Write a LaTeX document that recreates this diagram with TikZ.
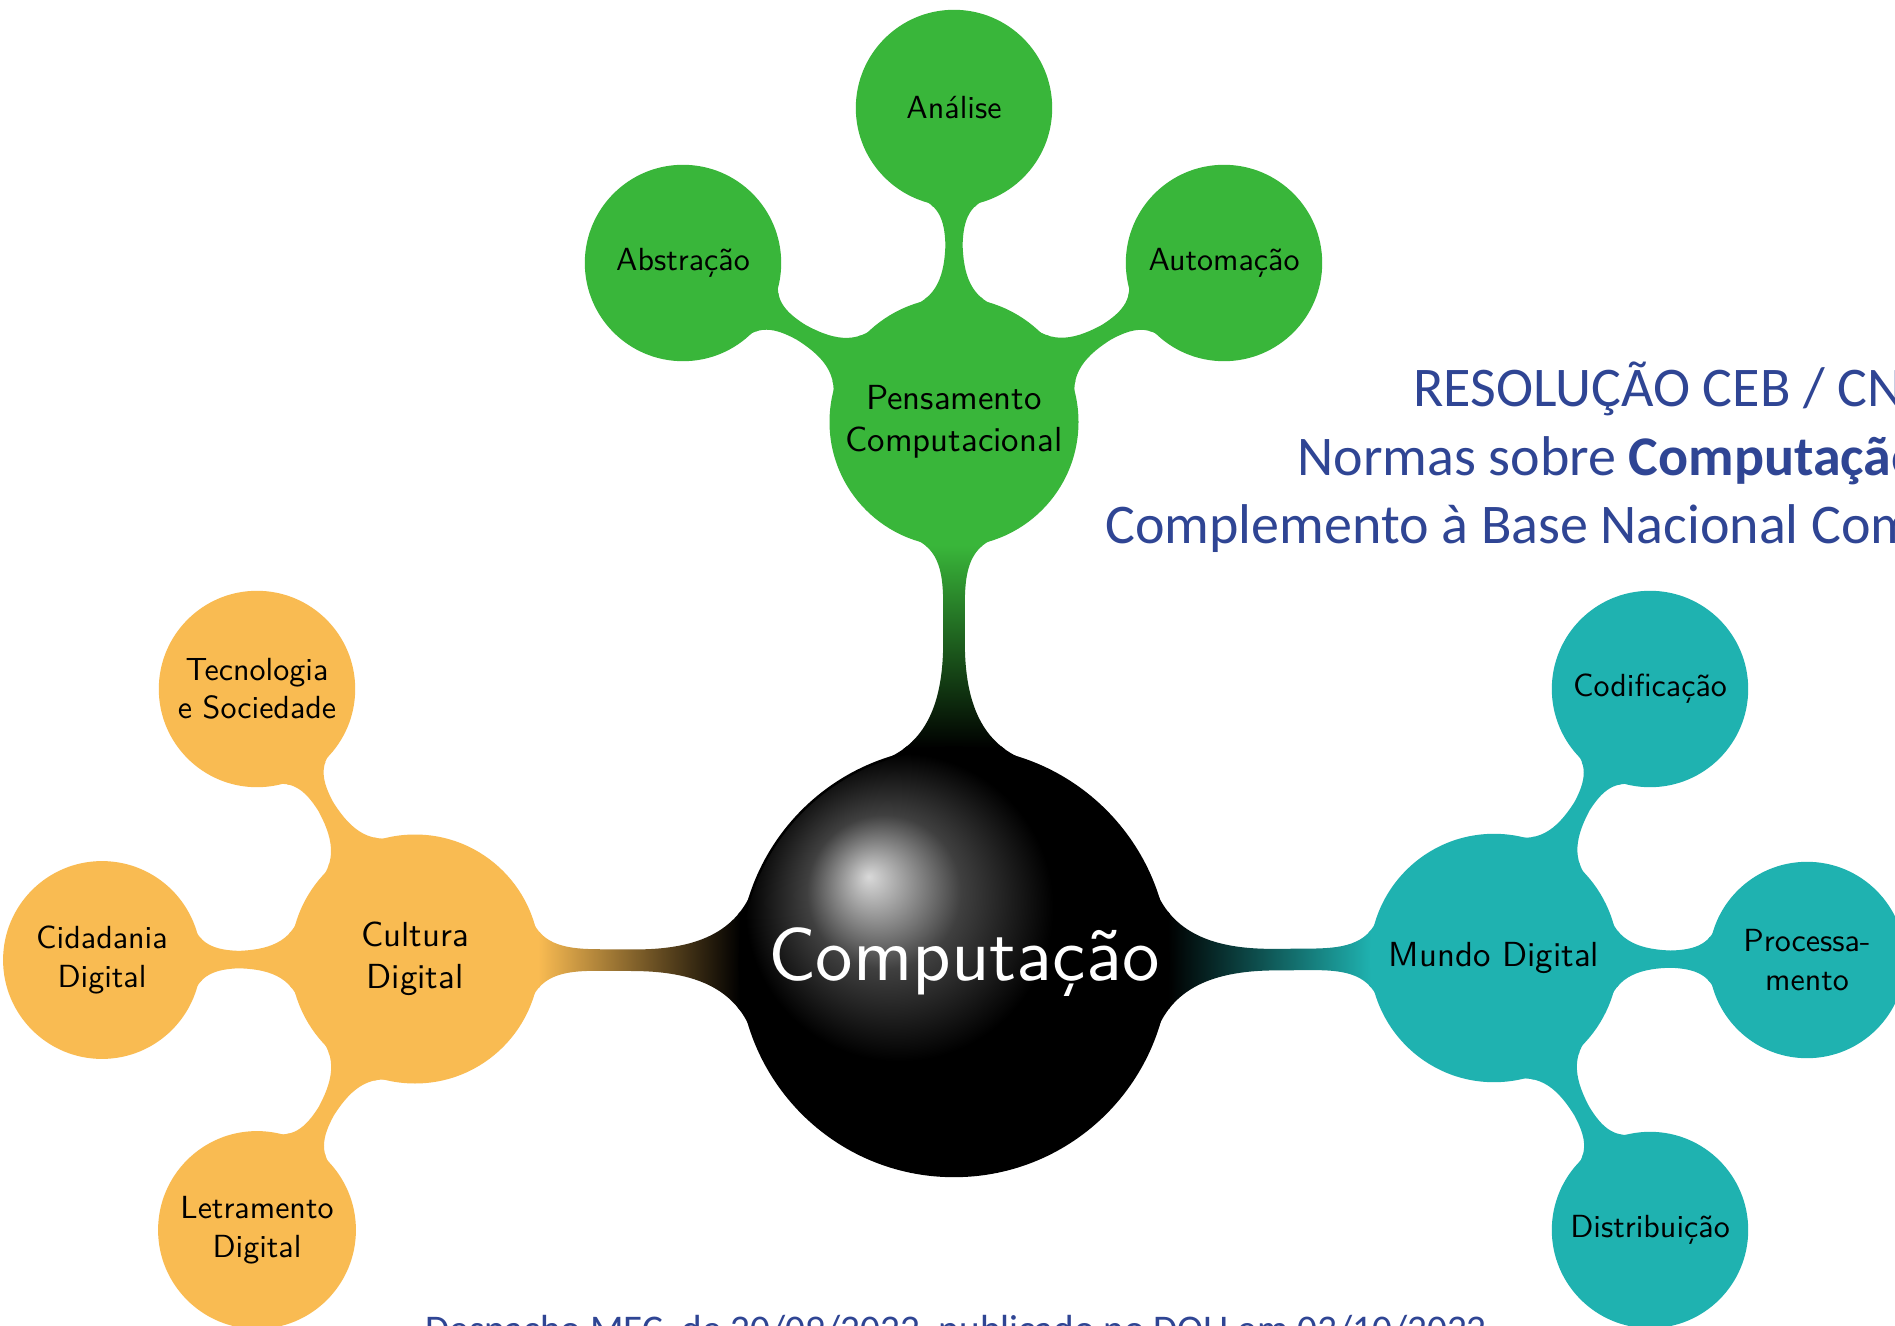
\documentclass[tikz,border=0pt]{standalone}
\usepackage{fontspec}
\newfontfamily\carlito{Carlito}
\newfontfamily\lmten{lmsans10-regular}[Extension=.otf]
\usetikzlibrary{mindmap,shadings,backgrounds}
\definecolor{pgreen}{RGB}{57,182,58}
\definecolor{porange}{RGB}{249,187,82}
\definecolor{pteal}{RGB}{31,178,176}
\definecolor{tblue}{RGB}{47,69,148}
\tikzset{
  rootc/.style={concept, concept color=black, ball color=black, minimum size=214pt,
    text width=186pt, align=center, inner sep=0pt, text=white,
    font=\lmten\fontsize{37.4}{45}\selectfont},
  lvone/.style={concept, minimum size=123pt, text width=118pt, align=center, inner sep=0pt,
    text=black, font=\lmten\fontsize{17.4}{20.8}\selectfont},
  lvtwo/.style={concept, minimum size=97pt, text width=92pt, align=center, inner sep=0pt,
    text=black, font=\lmten\fontsize{16}{19.2}\selectfont},
  rootbar/.style={/pgf/decoration/start radius=107pt, /pgf/decoration/end radius=61.5pt,
    /pgf/decoration/amplitude=6pt, /pgf/decoration/angle=20},
  leafbar/.style={/pgf/decoration/start radius=61.5pt, /pgf/decoration/end radius=48.5pt,
    /pgf/decoration/amplitude=5pt, /pgf/decoration/angle=20},
  titletext/.style={anchor=base west, inner sep=0pt, text=tblue,
    font=\carlito\fontsize{28}{34}\selectfont},
  foottext/.style={anchor=base west, inner sep=0pt, text=tblue,
    font=\carlito\fontsize{19.6}{23}\selectfont},
}
\begin{document}
\begin{tikzpicture}[x=0.5pt,y=-0.5pt]
\useasboundingbox (0,0) rectangle (1895,1326);
\begin{scope}[mindmap]
% nodes
\node[rootc] (root) at (954,962) {Computação};
\node[lvone, concept color=pgreen] (pens) at (954,422) {Pensamento\\Computacional};
\node[lvtwo, concept color=pgreen] (anal) at (954,108) {Análise};
\node[lvtwo, concept color=pgreen] (abst) at (683,263) {Abstração};
\node[lvtwo, concept color=pgreen] (auto) at (1224,263) {Automação};
\node[lvone, concept color=porange] (cult) at (415,959) {Cultura\\Digital};
\node[lvtwo, concept color=porange] (tecn) at (257,689) {Tecnologia\\e Sociedade};
\node[lvtwo, concept color=porange] (cida) at (102,960) {Cidadania\\Digital};
\node[lvtwo, concept color=porange] (letr) at (257,1230) {Letramento\\Digital};
\node[lvone, concept color=pteal] (mund) at (1494,958) {Mundo Digital};
\node[lvtwo, concept color=pteal] (codi) at (1650,689) {Codificação};
\node[lvtwo, concept color=pteal] (proc) at (1807,960) {Processa-\\mento};
\node[lvtwo, concept color=pteal] (dist) at (1650,1230) {Distribuição};
% connections
\begin{scope}[on background layer]
\fill[white] (0,0) rectangle (1895,1326);
\path[rootbar] (root) to[circle connection bar switch color=from (black) to (pgreen)] (pens);
\path[rootbar] (root) to[circle connection bar switch color=from (black) to (porange)] (cult);
\path[rootbar] (root) to[circle connection bar switch color=from (black) to (pteal)] (mund);
\path[leafbar] (pens) to[circle connection bar switch color=from (pgreen) to (pgreen)] (anal);
\path[leafbar] (pens) to[circle connection bar switch color=from (pgreen) to (pgreen)] (abst);
\path[leafbar] (pens) to[circle connection bar switch color=from (pgreen) to (pgreen)] (auto);
\path[leafbar] (cult) to[circle connection bar switch color=from (porange) to (porange)] (tecn);
\path[leafbar] (cult) to[circle connection bar switch color=from (porange) to (porange)] (cida);
\path[leafbar] (cult) to[circle connection bar switch color=from (porange) to (porange)] (letr);
\path[leafbar] (mund) to[circle connection bar switch color=from (pteal) to (pteal)] (codi);
\path[leafbar] (mund) to[circle connection bar switch color=from (pteal) to (pteal)] (proc);
\path[leafbar] (mund) to[circle connection bar switch color=from (pteal) to (pteal)] (dist);
\end{scope}
\end{scope}
% texts
\node[titletext] (t1) at (1413,407) {RESOLUÇÃO CEB / CNE};
\node[titletext] (t2) at (1297,475) {Normas sobre \textbf{Computação}};
\node[titletext] (t3) at (1105,543) {Complemento à Base Nacional Comum};
\node[foottext] (t4) at (425,1342) {Despacho MEC, de 20/09/2022, publicado no DOU em 03/10/2022};
\end{tikzpicture}
\end{document}
